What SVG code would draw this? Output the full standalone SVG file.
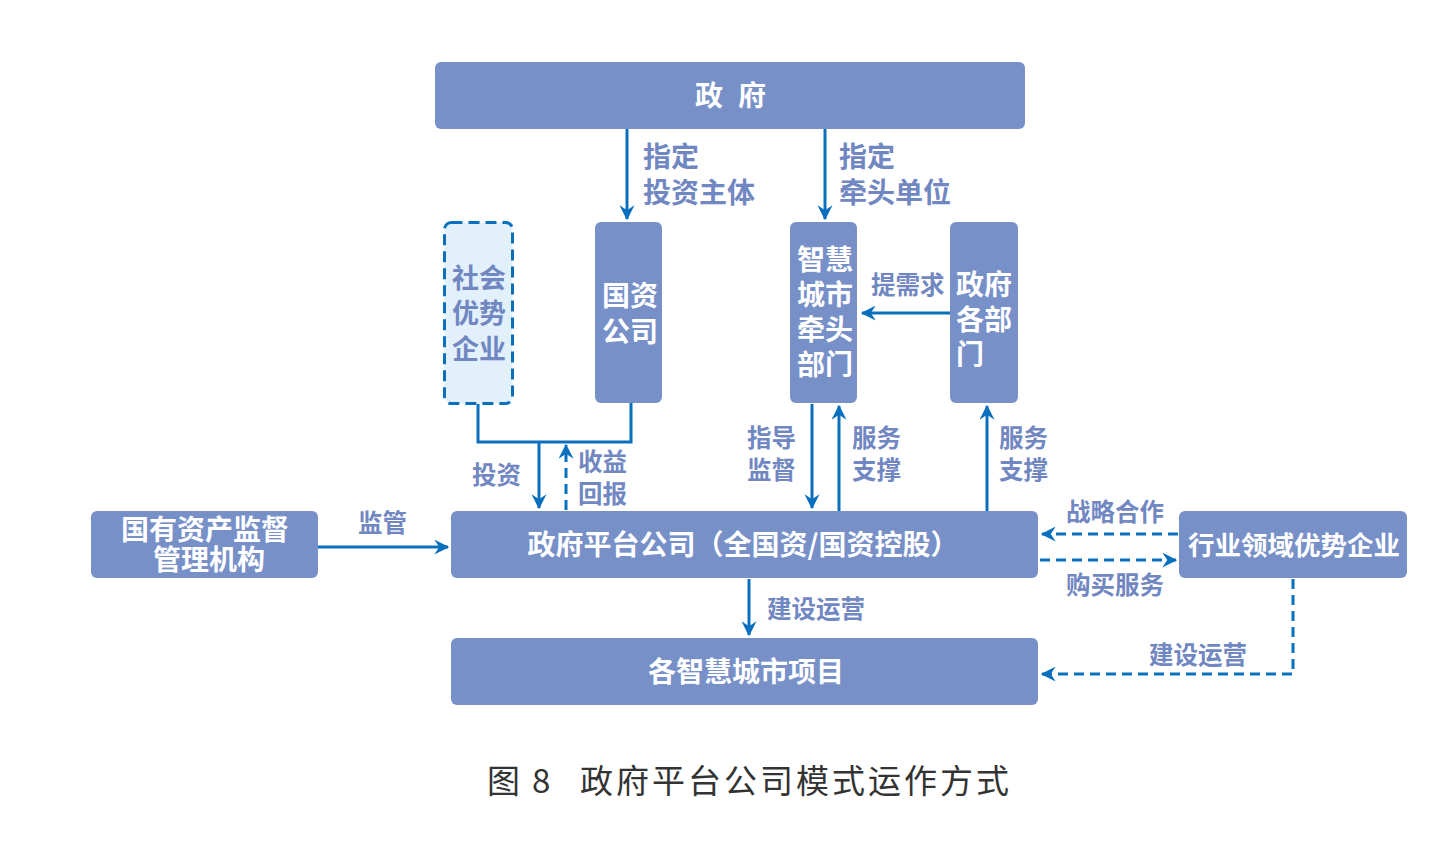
<svg xmlns="http://www.w3.org/2000/svg" width="1456" height="845" viewBox="0 0 1456 845">
<style>
.box{fill:#7790C8;}
.dbox{fill:#E1F0FB;stroke:#0A70BE;stroke-width:3;stroke-dasharray:11 6;}
.wt{font-family:"Noto Sans CJK SC",sans-serif;font-weight:700;font-size:28px;fill:#FFFFFF;text-anchor:middle;}
.ws{font-family:"Noto Sans CJK SC",sans-serif;font-weight:700;font-size:28px;fill:#FFFFFF;}
.lt{font-family:"Noto Sans CJK SC",sans-serif;font-weight:700;font-size:24.5px;fill:#7187C2;}
.lb{font-family:"Noto Sans CJK SC",sans-serif;font-weight:700;font-size:28px;fill:#7187C2;}
.lc{font-family:"Noto Sans CJK SC",sans-serif;font-weight:700;font-size:27px;fill:#7187C2;text-anchor:middle;}
.ln{fill:none;stroke:#0A70BE;stroke-width:3;}
.dl{fill:none;stroke:#0A70BE;stroke-width:3;stroke-dasharray:10 6;}
.cap{font-family:"Noto Sans CJK SC",sans-serif;font-size:33px;fill:#333333;}
</style>
<defs>
<marker id="ah" viewBox="0 0 12 12" refX="11" refY="6" markerWidth="5" markerHeight="5" orient="auto" markerUnits="strokeWidth">
<path d="M0,0 L12,6 L0,12 L4,6 z" fill="#0A70BE"/>
</marker>
</defs>
<rect width="1456" height="845" fill="#FFFFFF"/>
<g id="connectors">
<line class="ln" x1="627" y1="129" x2="627" y2="219" marker-end="url(#ah)"/>
<line class="ln" x1="825" y1="129" x2="825" y2="219" marker-end="url(#ah)"/>
<polyline class="ln" points="478,404 478,442 631,442 631,403"/>
<line class="ln" x1="539" y1="442" x2="539" y2="508" marker-end="url(#ah)"/>
<line class="dl" x1="566" y1="510" x2="566" y2="445" marker-end="url(#ah)"/>
<line class="ln" x1="812" y1="404" x2="812" y2="508" marker-end="url(#ah)"/>
<line class="ln" x1="839" y1="511" x2="839" y2="406" marker-end="url(#ah)"/>
<line class="ln" x1="987" y1="511" x2="987" y2="406" marker-end="url(#ah)"/>
<line class="ln" x1="950" y1="313" x2="862" y2="313" marker-end="url(#ah)"/>
<line class="ln" x1="318" y1="547" x2="448" y2="547" marker-end="url(#ah)"/>
<line class="dl" x1="1178" y1="534" x2="1042" y2="534" marker-end="url(#ah)"/>
<line class="dl" x1="1040" y1="560" x2="1176" y2="560" marker-end="url(#ah)"/>
<polyline class="dl" points="1293,579 1293,674 1042,674" marker-end="url(#ah)"/>
<line class="ln" x1="749" y1="579" x2="749" y2="635" marker-end="url(#ah)"/>
</g>
<g id="n-gov">
<rect class="box" x="435" y="62" width="590" height="67" rx="6"/>
<text class="wt" x="709" y="106">政</text>
<text class="wt" x="752" y="106">府</text>
</g>
<g id="n-social">
<rect class="dbox" x="444.5" y="222.5" width="68" height="181" rx="7"/>
<text class="lc" x="479" y="288">社会</text>
<text class="lc" x="479" y="323">优势</text>
<text class="lc" x="479" y="359">企业</text>
</g>
<g id="n-guozi">
<rect class="box" x="595" y="222" width="67" height="181" rx="6"/>
<text class="wt" x="630" y="306">国资</text>
<text class="wt" x="630" y="342">公司</text>
</g>
<g id="n-lead">
<rect class="box" x="790" y="222" width="67" height="181" rx="6"/>
<text class="wt" x="825" y="270">智慧</text>
<text class="wt" x="825" y="305">城市</text>
<text class="wt" x="825" y="340">牵头</text>
<text class="wt" x="825" y="375">部门</text>
</g>
<g id="n-depts">
<rect class="box" x="950" y="222" width="68" height="181" rx="6"/>
<text class="ws" x="956" y="295">政府</text>
<text class="ws" x="956" y="330">各部</text>
<text class="ws" x="956" y="365">门</text>
</g>
<g id="n-platform">
<rect class="box" x="451" y="511" width="587" height="67" rx="6"/>
<text class="wt" x="743" y="555">政府平台公司（全国资/国资控股）</text>
</g>
<g id="n-sasac">
<rect class="box" x="91" y="511" width="227" height="67" rx="6"/>
<text class="wt" x="205" y="540">国有资产监督</text>
<text class="wt" x="209" y="570">管理机构</text>
</g>
<g id="n-industry">
<rect class="box" x="1179" y="511" width="228" height="67" rx="6"/>
<text class="wt" x="1294" y="555" style="font-size:26.5px">行业领域优势企业</text>
</g>
<g id="n-projects">
<rect class="box" x="451" y="638" width="587" height="67" rx="6"/>
<text class="wt" x="746" y="682">各智慧城市项目</text>
</g>
<g id="labels">
<text class="lb" x="643" y="167">指定</text>
<text class="lb" x="643" y="203">投资主体</text>
<text class="lb" x="839" y="167">指定</text>
<text class="lb" x="839" y="203">牵头单位</text>
<text class="lt" x="871" y="294">提需求</text>
<text class="lt" x="472" y="484">投资</text>
<text class="lt" x="578" y="471">收益</text>
<text class="lt" x="578" y="503">回报</text>
<text class="lt" x="747" y="447">指导</text>
<text class="lt" x="747" y="479">监督</text>
<text class="lt" x="852" y="447">服务</text>
<text class="lt" x="852" y="479">支撑</text>
<text class="lt" x="999" y="447">服务</text>
<text class="lt" x="999" y="479">支撑</text>
<text class="lt" x="358" y="532">监管</text>
<text class="lt" x="1066" y="521">战略合作</text>
<text class="lt" x="1066" y="594">购买服务</text>
<text class="lt" x="1149" y="664">建设运营</text>
<text class="lt" x="767" y="618">建设运营</text>
</g>
<g id="caption">
<text class="cap" x="487" y="793">图</text>
<text class="cap" x="532" y="793">8</text>
<text class="cap" x="580" y="793" letter-spacing="3">政府平台公司模式运作方式</text>
</g>
</svg>
